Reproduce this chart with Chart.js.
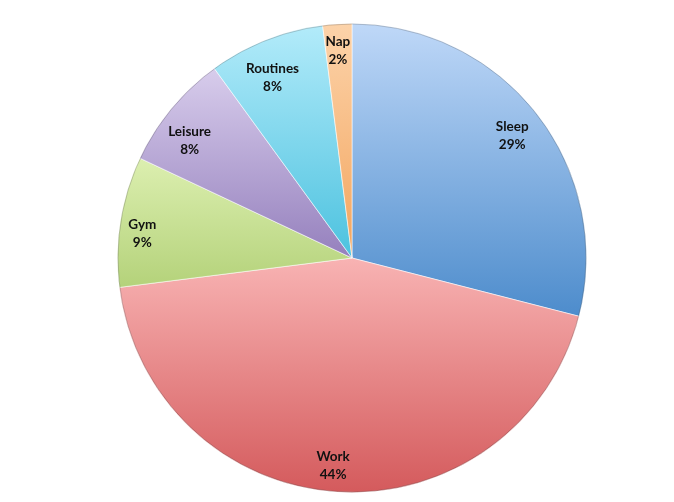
<!DOCTYPE html>
<html>
<head>
<meta charset="utf-8">
<script src="https://cdn.jsdelivr.net/npm/chart.js@4"></script>
<style>
  html, body { margin: 0; padding: 0; background: #ffffff; }
  #wrap { width: 674px; height: 502px; }
</style>
</head>
<body>
<div id="wrap"><canvas id="c" width="674" height="502"></canvas></div>
<script>
// How the day is spent, in percent
const categories = ['Sleep', 'Work', 'Gym', 'Leisure', 'Routines', 'Nap'];
const shares = [29, 44, 9, 8, 8, 2];

// light (top) / dark (bottom) ends of each slice's shading
const lightColors = ['#bfd8f8', '#f8b3b3', '#dcefb0', '#d8cdec', '#b3ebfa', '#fcd3aa'];
const darkColors  = ['#4d8ccc', '#d45a5c', '#b4d27a', '#9580bd', '#4cc2df', '#f3a55e'];

// where each label sits: fraction of the radius, and turn (degrees) from the slice middle
const labelSpots = [[0.86, 0.4], [0.89, 1.6], [0.9, -2.5], [0.855, -3.7], [0.84, -2.2], [0.885, -0.3]];

function sliceGradient(ctx) {
  const chart = ctx.chart;
  const area = chart.chartArea;
  if (!area) return lightColors[ctx.dataIndex];
  const cx = (area.left + area.right) / 2;
  const cy = (area.top + area.bottom) / 2;
  const r = Math.min(area.right - area.left, area.bottom - area.top) / 2;
  const total = shares.reduce((a, b) => a + b, 0);
  let before = 0;
  for (let k = 0; k < ctx.dataIndex; k++) before += shares[k];
  const a0 = before / total * Math.PI * 2 - Math.PI / 2;
  const a1 = (before + shares[ctx.dataIndex]) / total * Math.PI * 2 - Math.PI / 2;
  let minY = cy, maxY = cy;
  for (let s = 0; s <= 40; s++) {
    const a = a0 + (a1 - a0) * s / 40;
    const y = cy + r * Math.sin(a);
    minY = Math.min(minY, y); maxY = Math.max(maxY, y);
  }
  const g = chart.ctx.createLinearGradient(cx, minY, cx, maxY);
  g.addColorStop(0, lightColors[ctx.dataIndex]);
  g.addColorStop(1, darkColors[ctx.dataIndex]);
  return g;
}

// Two-line label (name + percent) inside each slice near the rim, plus a soft rim line
const sliceLabels = {
  id: 'sliceLabels',
  afterDatasetsDraw(chart) {
    const c = chart.ctx;
    const meta = chart.getDatasetMeta(0);
    c.save();
    const first = meta.data[0];
    c.beginPath();
    c.arc(first.x, first.y, first.outerRadius - 0.5, 0, Math.PI * 2);
    c.strokeStyle = 'rgba(60,60,60,0.25)';
    c.lineWidth = 1;
    c.stroke();

    c.fillStyle = '#111111';
    c.font = 'bold 13.5px Lato, "Open Sans", sans-serif';
    c.textAlign = 'center';
    c.textBaseline = 'middle';
    meta.data.forEach((arc, i) => {
      const spot = labelSpots[i];
      const mid = (arc.startAngle + arc.endAngle) / 2 + spot[1] * Math.PI / 180;
      const rr = arc.outerRadius * spot[0];
      const x = arc.x + rr * Math.cos(mid);
      const y = arc.y + rr * Math.sin(mid);
      c.fillText(categories[i], x, y - 9);
      c.fillText(shares[i] + '%', x, y + 9);
    });
    c.restore();
  }
};

new Chart(document.getElementById('c'), {
  type: 'pie',
  data: {
    labels: categories,
    datasets: [{
      data: shares,
      backgroundColor: sliceGradient,
      borderColor: 'rgba(255,255,255,0.55)',
      borderWidth: 1
    }]
  },
  options: {
    responsive: false,
    animation: false,
    layout: { padding: { left: 117, right: 87, top: 22, bottom: 8 } },
    plugins: {
      legend: { display: false },
      tooltip: { enabled: false }
    }
  },
  plugins: [sliceLabels]
});
</script>
</body>
</html>
